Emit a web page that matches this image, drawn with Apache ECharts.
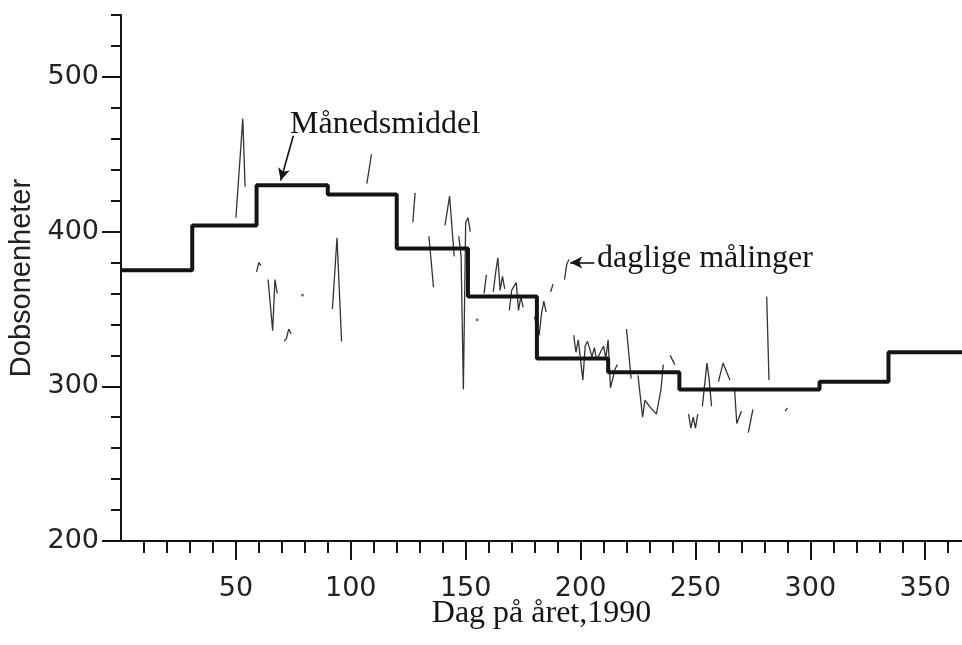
<!DOCTYPE html>
<html><head><meta charset="utf-8">
<script src="https://cdn.jsdelivr.net/npm/echarts@6/dist/echarts.min.js"></script>
<style>html,body{margin:0;padding:0;background:#fff}#c{width:962px;height:645px}</style>
</head><body><div id="c"></div>
<script>
// Monthly means (step line): value held from each month start day
const monthStartDay = [0, 31, 59, 90, 120, 151, 181, 212, 243, 273, 304, 334, 366];
const monthlyMean   = [375, 404, 430, 424, 389, 358, 318, 309, 298, 298, 303, 322, 322];

// Axis ticks
const yMajorTicks = [200, 300, 400, 500];
const yMinorTicks = [220, 240, 260, 280, 320, 340, 360, 380, 420, 440, 460, 480, 520, 540];
const xMajorTicks = [50, 100, 150, 200, 250, 300, 350];
const xMinorTicks = [10, 20, 30, 40, 60, 70, 80, 90, 110, 120, 130, 140, 160, 170, 180, 190,
                     210, 220, 230, 240, 260, 270, 280, 290, 310, 320, 330, 340, 360];

// Daily measurements [day, DU], grouped in unbroken runs
const dailyFebMar = [
  [[50, 409], [53, 473], [54, 429]],
  [[59, 374], [60, 380], [61, 378]],
  [[64, 369], [66, 336], [67, 369], [68, 360]],
  [[71, 329], [72, 331], [73, 337], [74, 334]]
];
const dailyAprMay = [
  [[92, 350], [94, 396], [96, 329]],
  [[107, 431], [109, 450]],
  [[127, 406], [128, 425]],
  [[134, 397], [136, 364]],
  [[141, 404], [143, 423], [145, 384]],
  [[147, 397], [148, 384], [149, 298], [150, 406], [151, 409], [152, 400]]
];
const dailyJun = [
  [[158, 360], [159, 372]],
  [[162, 361], [163, 373], [164, 383], [165, 362], [166, 371], [167, 363]],
  [[169, 349], [170, 362], [172, 367], [173, 349], [174, 358], [175, 351]],
  [[180, 345], [181, 338], [182, 333], [183, 347], [184, 355], [185, 348]],
  [[187, 361], [188, 366]]
];
const dailyJulAug = [
  [[193, 369], [194, 379], [195, 382]],
  [[197, 333], [198, 322], [199, 330], [201, 304], [202, 326], [203, 329], [205, 319], [206, 325],
   [207, 317], [210, 326], [211, 318], [212, 330], [213, 299], [215, 311], [216, 314]],
  [[220, 337], [222, 305]],
  [[225, 307], [227, 280], [228, 291], [230, 287], [233, 282], [235, 298], [236, 314]],
  [[239, 320], [241, 314]]
];
const dailySepOct = [
  [[247, 282], [248, 273], [249, 280], [250, 273], [251, 282]],
  [[253, 287], [255, 315], [256, 304], [257, 287]],
  [[260, 303], [262, 315], [265, 304]],
  [[267, 298], [268, 276], [270, 284]],
  [[273, 270], [275, 285]],
  [[281, 358], [282, 304]],
  [[289, 284], [290, 286]]
];
const dailySingle = [[79, 359], [155, 343]];

const runs = [].concat(dailyFebMar, dailyAprMay, dailyJun, dailyJulAug, dailySepOct);
const dailyData = [];
runs.forEach((r, i) => {
  r.forEach(p => dailyData.push(p));
  if (i < runs.length - 1) dailyData.push([r[r.length - 1][0] + 0.5, '-']);
});
const stepData = monthStartDay.map((d, i) => [d, monthlyMean[i]]);

const ink = '#141414';
const chart = echarts.init(document.getElementById('c'));
chart.setOption({
  animation: false,
  backgroundColor: '#fff',
  grid: { left: 121, right: 0, top: 15, bottom: 104, containLabel: false, outerBoundsMode: 'none' },
  xAxis: [
    { type: 'value', min: 0, max: 366, position: 'bottom',
      axisLine: { show: true, lineStyle: { color: ink, width: 2 } },
      axisTick: { show: true, customValues: xMinorTicks, length: 12, lineStyle: { color: ink, width: 2 } },
      axisLabel: { show: false }, splitLine: { show: false } },
    { type: 'value', min: 0, max: 366, position: 'bottom',
      axisLine: { show: false },
      axisTick: { show: true, customValues: xMajorTicks, length: 19, lineStyle: { color: ink, width: 2 } },
      axisLabel: { customValues: xMajorTicks, margin: 34, color: '#222', fontSize: 27, fontFamily: 'DejaVu Sans' },
      splitLine: { show: false },
      name: 'Dag på året,1990', nameLocation: 'middle', nameGap: 57, nameMoveOverlap: false,
      nameTextStyle: { color: ink, fontSize: 32, fontFamily: 'Liberation Serif' } }
  ],
  yAxis: [
    { type: 'value', min: 200, max: 540, position: 'left',
      axisLine: { show: true, lineStyle: { color: ink, width: 2 } },
      axisTick: { show: true, customValues: yMinorTicks, length: 10, lineStyle: { color: ink, width: 2 } },
      axisLabel: { show: false }, splitLine: { show: false } },
    { type: 'value', min: 200, max: 540, position: 'left',
      axisLine: { show: false },
      axisTick: { show: true, customValues: yMajorTicks, length: 19, lineStyle: { color: ink, width: 2 } },
      axisLabel: { customValues: yMajorTicks, margin: 22, color: '#222', fontSize: 27, fontFamily: 'DejaVu Sans' },
      splitLine: { show: false },
      name: 'Dobsonenheter', nameLocation: 'middle', nameGap: 85, nameRotate: 90, nameMoveOverlap: false,
      nameTextStyle: { color: '#222', fontSize: 29, fontFamily: 'Liberation Sans' } }
  ],
  series: [
    { name: 'Månedsmiddel', type: 'line', step: 'end', data: stepData,
      xAxisIndex: 0, yAxisIndex: 0, showSymbol: false, symbol: 'none',
      lineStyle: { color: ink, width: 4 }, z: 3,
      markLine: { silent: true, symbol: ['none', 'arrow'], symbolSize: [9, 12],
        label: { show: false }, lineStyle: { color: ink, width: 1.6, type: 'solid' },
        data: [
          [{ coord: [75, 462] }, { coord: [69.5, 433] }],
          [{ coord: [206, 380] }, { coord: [195.5, 380] }]
        ] } },
    { name: 'daglige målinger', type: 'line', data: dailyData, connectNulls: false,
      xAxisIndex: 0, yAxisIndex: 0, showSymbol: false, symbol: 'none',
      lineStyle: { color: '#333', width: 1.3 }, z: 2 },
    { name: 'enkeltmålinger', type: 'scatter', data: dailySingle,
      xAxisIndex: 0, yAxisIndex: 0, symbolSize: 3, itemStyle: { color: '#555' } }
  ],
  graphic: [
    { type: 'text', x: 290, y: 125, silent: true,
      style: { text: 'Månedsmiddel', font: '32px "Liberation Serif"', fill: ink, verticalAlign: 'middle' } },
    { type: 'text', x: 597, y: 259, silent: true,
      style: { text: 'daglige målinger', font: '32px "Liberation Serif"', fill: ink, verticalAlign: 'middle' } }
  ]
});
</script>
</body></html>
